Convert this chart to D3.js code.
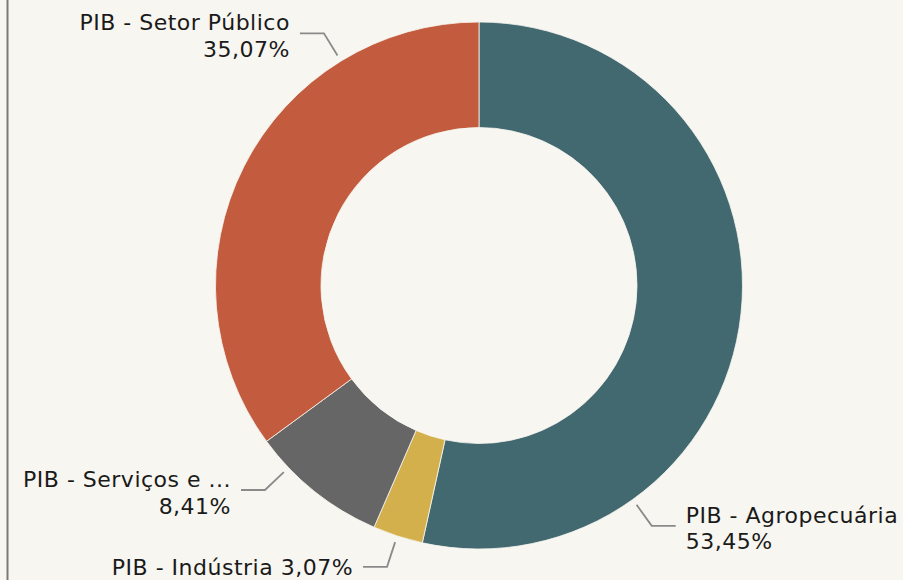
<!DOCTYPE html>
<html><head><meta charset="utf-8">
<script src="https://cdn.jsdelivr.net/npm/d3@7"></script>
<style>
html,body{margin:0;padding:0;background:#f8f6f1;}
svg{display:block;}
</style></head>
<body>
<script>
// Data
const categories = ["PIB - Agropecuária", "PIB - Indústria", "PIB - Serviços e ...", "PIB - Setor Público"];
const values = [53.45, 3.07, 8.41, 35.07];
const colors = ["#426870", "#d4b04c", "#666666", "#c35c3e"];

// Label layout (annotation placement, degrees clockwise from top)
const labelAngles = [144.3, 198.1, 226.3, 328.4];
const labelSingleLine = [false, true, false, false];

const W = 903, H = 580;
const cx = 479, cy = 285.5, R = 263.5, r = 158;
const svg = d3.select("body").append("svg").attr("width", W).attr("height", H);
svg.append("rect").attr("width", W).attr("height", H).attr("fill", "#f8f6f1");
svg.append("line").attr("x1", 7.5).attr("x2", 7.5).attr("y1", 0).attr("y2", H)
  .attr("stroke", "#7a7a7a").attr("stroke-width", 2);

const loc = d3.formatLocale({decimal: ",", thousands: ".", grouping: [3], currency: ["", ""]});
const fmt = v => loc.format(".2f")(v) + "%";

const pie = d3.pie().sort(null).value(d => d.value).startAngle(0).endAngle(2 * Math.PI);
const data = categories.map((c, i) => ({name: c, value: values[i], color: colors[i], la: labelAngles[i], single: labelSingleLine[i]}));
const arcs = pie(data);
const arc = d3.arc().innerRadius(r).outerRadius(R);

const g = svg.append("g").attr("transform", `translate(${cx},${cy})`);
g.selectAll("path.slice").data(arcs).join("path").attr("class", "slice")
  .attr("d", arc).attr("fill", d => d.data.color)
  .attr("stroke", "#f8f6f1").attr("stroke-width", 0.8);

const r1 = 270, r2 = 296, hlen = 24, gap = 10, lh = 26.5;
const pt = (a, rad) => [Math.sin(a) * rad, -Math.cos(a) * rad];

arcs.forEach(d => {
  const a = d.data.la * Math.PI / 180;
  const p1 = pt(a, r1), p2 = pt(a, r2);
  const right = Math.sin(a) > 0;
  const p3 = [p2[0] + (right ? hlen : -hlen), p2[1]];
  g.append("polyline").attr("points", [p1, p2, p3].map(p => p.join(",")).join(" "))
    .attr("fill", "none").attr("stroke", "#8a8a8a").attr("stroke-width", 1.8);
  const tx = p3[0] + (right ? gap : -gap);
  const t = g.append("text").attr("x", tx)
    .attr("text-anchor", right ? "start" : "end")
    .attr("font-family", "'DejaVu Sans', Verdana, sans-serif")
    .attr("font-size", 22).attr("letter-spacing", 0.5).attr("fill", "#1a1a1a");
  if (d.data.single) {
    t.attr("y", p2[1] + 8).text(d.data.name + " " + fmt(d.data.value));
  } else {
    t.append("tspan").attr("x", tx).attr("y", p2[1] - 3).text(d.data.name);
    t.append("tspan").attr("x", tx).attr("y", p2[1] - 3 + lh).text(fmt(d.data.value));
  }
});
</script>
</body></html>
